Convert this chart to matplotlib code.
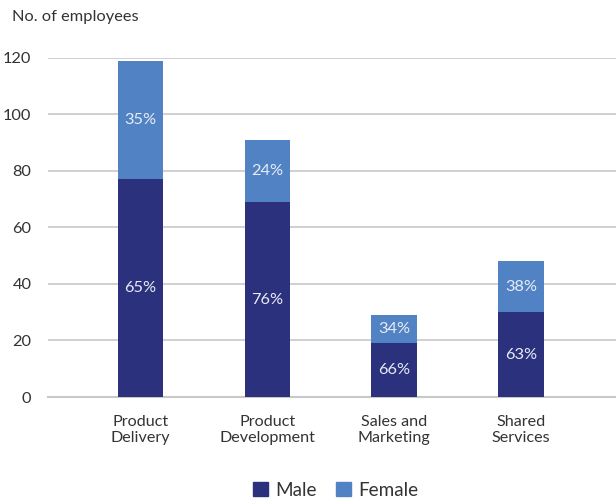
import matplotlib
matplotlib.use('Agg')
from matplotlib import pyplot as plt
from matplotlib.patches import Patch

plt.rcParams['font.family'] = ['Lato', 'DejaVu Sans']

# Headcount by department
departments = ['Product\nDelivery', 'Product\nDevelopment', 'Sales and\nMarketing', 'Shared\nServices']
male = [77, 69, 19, 30]
female = [42, 22, 10, 18]
male_pct = ['65%', '76%', '66%', '63%']
female_pct = ['35%', '24%', '34%', '38%']

male_color = '#2b317c'
female_color = '#5183c4'

fig = plt.figure(figsize=(6.16, 5.04), dpi=100)
ax = fig.add_axes([0.078, 0.2123, 0.922, 0.6727])

x = range(len(departments))
ax.bar(x, male, width=0.36, color=male_color, zorder=3)
ax.bar(x, female, width=0.36, bottom=male, color=female_color, zorder=3)

for i in x:
    ax.text(i, male[i] / 2, male_pct[i], ha='center', va='center',
            color='#e8ecf5', fontsize=11.8, zorder=4)
    ax.text(i, male[i] + female[i] / 2, female_pct[i], ha='center', va='center',
            color='#e8ecf5', fontsize=11.8, zorder=4)

ax.set_ylim(0, 120)
ax.set_xlim(-0.73, 3.75)
ax.set_yticks(range(0, 121, 20))
ax.set_xticks(list(x))
ax.set_xticklabels(departments, fontsize=11.6, color='#333333', linespacing=1.2)
ax.tick_params(axis='y', labelsize=11.8, labelcolor='#333333', length=0, pad=12)
ax.tick_params(axis='x', length=0, pad=13)
ax.grid(axis='y', color='#c8c8c8', linewidth=1.2, zorder=0)
for s in ['top', 'right', 'left']:
    ax.spines[s].set_visible(False)
ax.spines['bottom'].set_color('#c8c8c8')
ax.spines['bottom'].set_linewidth(1.5)

fig.text(12 / 616, 1 - 17 / 504, 'No. of employees', fontsize=11.8, color='#333333',
         ha='left', va='center')

handles = [Patch(color=male_color, label='Male'), Patch(color=female_color, label='Female')]
fig.legend(handles=handles, loc='center', bbox_to_anchor=(0.545, 1 - 490 / 504), ncol=2,
           frameon=False, fontsize=13.6, handlelength=0.8, handleheight=0.8,
           handletextpad=0.4, columnspacing=1.0, labelcolor='#333333')

fig.savefig('out.png', dpi=100)
